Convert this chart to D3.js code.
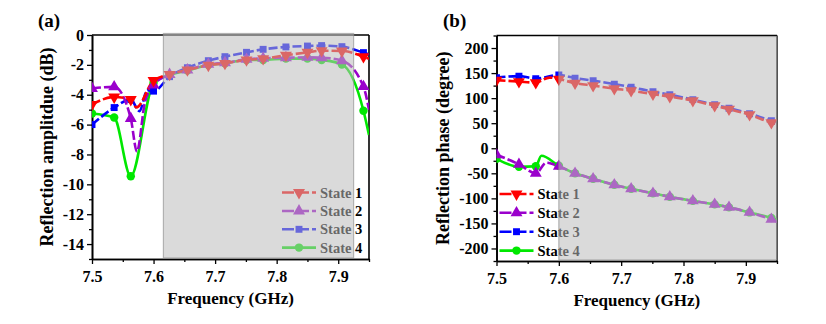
<!DOCTYPE html>
<html><head><meta charset="utf-8">
<script src="https://cdn.jsdelivr.net/npm/d3@7"></script>
<style>
html,body{margin:0;padding:0;background:#fff;}
svg{display:block;}
svg text{font-family:"Liberation Serif","Times New Roman",Tinos,"DejaVu Serif",serif !important;font-weight:bold;fill:#000;}
</style></head><body>
<svg id="chart" width="826" height="324"></svg>
<script>
// Frequencies (GHz) at which markers are drawn
const markFreq = [7.5, 7.536, 7.563, 7.6, 7.626, 7.655, 7.689, 7.716, 7.751, 7.778, 7.815, 7.85, 7.873, 7.906, 7.941];

const stateNames  = ["State 1", "State 2", "State 3", "State 4"];
const stateColors = ["#ff0000", "#9a00cc", "#0000ff", "#00e800"];

// Reflection amplitude (dB) at the marker frequencies
const ampState1 = [-4.65, -4.15, -4.32, -3.05, -2.64, -2.34, -2.03, -1.90, -1.67, -1.58, -1.36, -1.16, -1.05, -1.07, -1.45];
const ampState2 = [-3.58, -3.47, -5.59, -3.35, -2.64, -2.34, -1.97, -1.86, -1.63, -1.56, -1.52, -1.50, -1.52, -1.72, -3.46];
const ampState3 = [-6.00, -4.86, -4.32, -3.76, -2.79, -2.19, -1.72, -1.45, -1.16, -0.96, -0.80, -0.74, -0.71, -0.78, -1.18];
const ampState4 = [-5.26, -5.53, -9.46, -3.20, -2.68, -2.38, -2.01, -1.90, -1.67, -1.67, -1.58, -1.58, -1.67, -1.97, -5.07];
// Additional curve samples between markers [freq, dB]
const ampExtra1 = [[7.572, -4.85], [7.95, -1.60]];
const ampExtra2 = [[7.573, -7.80], [7.586, -4.50], [7.95, -5.00]];
const ampExtra3 = [[7.577, -5.10], [7.59, -3.70], [7.95, -1.30]];
const ampExtra4 = [[7.95, -6.70]];

// Reflection phase (degree) at the marker frequencies
const phaseState1 = [136, 133, 131, 138, 130, 125, 119, 115, 108, 103, 95, 85, 78, 67, 51];
const phaseState2 = [-13, -32, -50, -36, -50, -61, -73, -81, -90, -97, -105, -112, -118, -128, -142];
const phaseState3 = [141, 144, 139, 146, 140, 135, 128, 122, 113, 107, 97, 87, 80, 69, 55];
const phaseState4 = [-21, -37, -36, -35, -50, -61, -73, -81, -90, -97, -105, -112, -118, -128, -139];
const phaseExtra1 = [[7.585, 141], [7.95, 48]];
const phaseExtra2 = [[7.58, -29], [7.95, -146]];
const phaseExtra3 = [[7.95, 52]];
const phaseExtra4 = [[7.572, -15], [7.95, -143]];

const xTicks = [7.5, 7.6, 7.7, 7.8, 7.9];
const xMinor = [7.55, 7.65, 7.75, 7.85, 7.95];
const ampTicks = [0, -2, -4, -6, -8, -10, -12, -14];
const ampMinor = [-1, -3, -5, -7, -9, -11, -13, -15];
const phaseTicks = [200, 150, 100, 50, 0, -50, -100, -150, -200];
const phaseMinor = [225, 175, 125, 75, 25, -25, -75, -125, -175, -225];

const svg = d3.select("#chart");

function series(vals, extra) {
  const pts = markFreq.map((f, i) => ({f, v: vals[i], m: true}))
    .concat(extra.map(([f, v]) => ({f, v, m: false})));
  return pts.sort((a, b) => a.f - b.f);
}

function panel(cfg) {
  const g = svg.append("g");
  const x = d3.scaleLinear().domain([7.5, 7.95]).range([cfg.left, cfg.right]);
  const y = d3.scaleLinear().domain(cfg.yDomain).range([cfg.bottom, cfg.top]);

  // bottom axis
  const gx = g.append("g").attr("transform", `translate(0,${cfg.bottom})`)
    .call(d3.axisBottom(x).tickValues(xTicks).tickFormat(d3.format(".1f")).tickSize(5).tickSizeOuter(0));
  gx.append("g").call(d3.axisBottom(x).tickValues(xMinor).tickFormat("").tickSize(3).tickSizeOuter(0));
  // left axis
  const gy = g.append("g").attr("transform", `translate(${cfg.left},0)`)
    .call(d3.axisLeft(y).tickValues(cfg.ticks).tickFormat(d => d).tickSize(5).tickSizeOuter(0));
  gy.append("g").call(d3.axisLeft(y).tickValues(cfg.minor).tickFormat("").tickSize(3).tickSizeOuter(0));
  g.selectAll(".domain").attr("stroke-width", 1.6);
  g.selectAll(".tick line").attr("stroke-width", 1.3);
  g.selectAll(".tick text").attr("font-size", cfg.tickFont);
  gx.selectAll(".tick text").attr("dy", "0.95em");
  // top and right frame
  g.append("line").attr("x1", cfg.left).attr("x2", cfg.right).attr("y1", cfg.top).attr("y2", cfg.top)
    .attr("stroke", "#000").attr("stroke-width", 1.6);
  g.append("line").attr("x1", cfg.right).attr("x2", cfg.right).attr("y1", cfg.top).attr("y2", cfg.bottom)
    .attr("stroke", "#000").attr("stroke-width", 1.6);

  const clip = "clip" + cfg.id;
  g.append("clipPath").attr("id", clip).append("rect")
    .attr("x", cfg.left).attr("y", cfg.top).attr("width", cfg.right - cfg.left).attr("height", cfg.bottom - cfg.top);

  const line = d3.line().x(d => x(d.f)).y(d => y(d.v)).curve(d3.curveMonotoneX);
  const plot = g.append("g").attr("clip-path", `url(#${clip})`);
  const symbols = [
    {t: d3.symbolTriangle, r: 180, s: 62},
    {t: d3.symbolTriangle, r: 0, s: 62},
    {t: d3.symbolSquare, r: 0, s: 48},
    {t: d3.symbolCircle, r: 0, s: 56}
  ];
  cfg.drawOrder.forEach(i => {
    plot.append("path").attr("d", line(cfg.data[i])).attr("fill", "none")
      .attr("stroke", stateColors[i]).attr("stroke-width", 2.6)
      .attr("stroke-dasharray", i === 3 ? null : "9,3");
  });
  cfg.drawOrder.forEach(i => {
    const sym = symbols[i];
    plot.selectAll(null).data(cfg.data[i].filter(d => d.m)).enter().append("path")
      .attr("d", d3.symbol(sym.t, sym.s)())
      .attr("transform", d => `translate(${x(d.f)},${y(d.v)}) rotate(${sym.r})`)
      .attr("fill", stateColors[i]);
  });

  // legend
  const lg = g.append("g");
  stateNames.forEach((name, i) => {
    const ly = cfg.legY[i];
    lg.append("line").attr("x1", cfg.legX).attr("x2", cfg.legX + 34).attr("y1", ly).attr("y2", ly)
      .attr("stroke", stateColors[i]).attr("stroke-width", 2.6)
      .attr("stroke-dasharray", i === 3 ? null : "12,3");
    const sym = symbols[i];
    lg.append("path").attr("d", d3.symbol(sym.t, sym.s)())
      .attr("transform", `translate(${cfg.legX + 17},${ly}) rotate(${sym.r})`).attr("fill", stateColors[i]);
    lg.append("text").attr("x", cfg.legX + 38).attr("y", ly).attr("dy", "0.35em")
      .attr("font-size", 14.5).text(name);
  });

  // highlighted frequency band
  g.append("rect")
    .attr("x", x(cfg.band[0])).attr("width", x(cfg.band[1]) - x(cfg.band[0]))
    .attr("y", cfg.bandTop).attr("height", cfg.bottom - 1 - cfg.bandTop)
    .attr("fill", "rgba(188,188,188,0.55)")
    .attr("stroke", "rgba(140,140,140,0.6)").attr("stroke-width", 1.2);

  // titles
  g.append("text").attr("x", (cfg.left + cfg.right) / 2).attr("y", cfg.bottom + 45)
    .attr("text-anchor", "middle").attr("font-size", 17).text("Frequency (GHz)");
  g.append("text").attr("transform", `translate(${cfg.yTitleX},${(cfg.top + cfg.bottom) / 2}) rotate(-90)`)
    .attr("text-anchor", "middle").attr("font-size", 18).text(cfg.yTitle);
  g.append("text").attr("x", cfg.labelX).attr("y", 27).attr("font-size", 19).text(cfg.label);
}

panel({
  id: "a", left: 92, right: 369, top: 35, bottom: 259,
  yDomain: [-15, 0], ticks: ampTicks, minor: ampMinor, tickFont: 16,
  data: [series(ampState1, ampExtra1), series(ampState2, ampExtra2), series(ampState3, ampExtra3), series(ampState4, ampExtra4)],
  drawOrder: [3, 2, 1, 0],
  band: [7.616, 7.925], bandTop: 33.5,
  legX: 282, legY: [192.5, 211, 229.3, 247.6],
  yTitle: "Reflection amplitdue (dB)", yTitleX: 53, label: "(a)", labelX: 38
});

panel({
  id: "b", left: 496.5, right: 777, top: 35.5, bottom: 261,
  yDomain: [-225, 225], ticks: phaseTicks, minor: phaseMinor, tickFont: 16,
  data: [series(phaseState1, phaseExtra1), series(phaseState2, phaseExtra2), series(phaseState3, phaseExtra3), series(phaseState4, phaseExtra4)],
  drawOrder: [3, 1, 2, 0],
  band: [7.6, 7.95], bandTop: 36.5,
  legX: 499.5, legY: [194, 212.8, 231.7, 250.6],
  yTitle: "Reflection phase (degree)", yTitleX: 449, label: "(b)", labelX: 443
});
</script>
</body></html>
